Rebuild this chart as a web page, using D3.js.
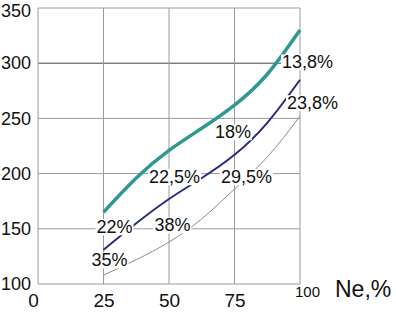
<!DOCTYPE html>
<html>
<head>
<meta charset="utf-8">
<script src="https://cdn.jsdelivr.net/npm/d3@7"></script>
<style>
  html, body { margin: 0; padding: 0; background: #fff; }
  svg { display: block; font-family: "Liberation Sans", Arial, sans-serif; }
</style>
</head>
<body>
<svg id="chart" width="396" height="312"></svg>
<script>
// values, Ne in %
const xTicks = [0, 25, 50, 75, 100];
const yTicks = [100, 150, 200, 250, 300, 350];

const neLevels = [25, 37.5, 50, 62.5, 75, 87.5, 100];
const tealValues = [165, 196, 221, 241, 262, 290, 330];
const navyValues = [131, 155, 177, 196, 217, 246, 285];
const greyValues = [108, 122, 138, 159, 186, 215, 252];

const labelTexts = ['13,8%', '23,8%', '18%', '22,5%', '29,5%', '22%', '38%', '35%'];
const labelNe = [102.9, 104.8, 74.4, 52.1, 79.6, 29.2, 51.3, 27.3];
const labelVal = [301, 264, 237.7, 197, 197, 151.6, 153.4, 121.7];

const svg = d3.select('#chart');

const xScale = d3.scaleLinear().domain([0, 100]).range([38, 300]);
const yScale = d3.scaleLinear().domain([100, 350]).range([284, 8]);

// grid
const grid = svg.append('g');
grid.selectAll('line.h')
    .data(yTicks)
    .enter()
    .append('line')
    .attr('x1', xScale(0))
    .attr('x2', xScale(100))
    .attr('y1', d => yScale(d))
    .attr('y2', d => yScale(d))
    .attr('stroke', d => d === 300 ? '#444' : '#9a9a9a')
    .attr('stroke-width', 1);

grid.selectAll('line.v')
    .data(xTicks)
    .enter()
    .append('line')
    .attr('x1', d => xScale(d))
    .attr('x2', d => xScale(d))
    .attr('y1', yScale(350))
    .attr('y2', yScale(100))
    .attr('stroke', '#9a9a9a')
    .attr('stroke-width', 1);

// axes (labels only)
const yAxis = d3.axisLeft(yScale).tickValues(yTicks).tickSize(0).tickPadding(0);
const yg = svg.append('g')
    .attr('transform', 'translate(31,0)')
    .call(yAxis);
yg.select('.domain').remove();
yg.selectAll('text')
    .attr('font-size', 18)
    .attr('font-family', '"Liberation Sans", Arial, sans-serif')
    .attr('fill', '#111')
    .attr('dy', d => d === 350 ? '0.45em' : '0.32em');

const xAxis = d3.axisBottom(xScale).tickValues(xTicks).tickSize(0).tickPadding(0);
const xg = svg.append('g')
    .attr('transform', 'translate(0,292)')
    .call(xAxis);
xg.select('.domain').remove();
xg.selectAll('text')
    .attr('font-family', '"Liberation Sans", Arial, sans-serif')
    .attr('fill', '#111')
    .attr('dy', null)
    .attr('y', d => d === 100 ? 5 : 15)
    .attr('dx', d => d === 0 ? -5 : (d === 100 ? 7 : 0))
    .attr('font-size', d => d === 100 ? 15 : 19);

svg.append('text')
    .attr('x', 335)
    .attr('y', 297)
    .attr('font-size', 23)
    .attr('fill', '#111')
    .text('Ne,%');

// curves
const line = vals => d3.line()
    .x((d, i) => xScale(neLevels[i]))
    .y(d => yScale(d))
    .curve(d3.curveNatural)(vals);

svg.append('path')
    .attr('d', line(greyValues))
    .attr('fill', 'none')
    .attr('stroke', '#8a8a8a')
    .attr('stroke-width', 1);

svg.append('path')
    .attr('d', line(navyValues))
    .attr('fill', 'none')
    .attr('stroke', '#2b2a7c')
    .attr('stroke-width', 2);

svg.append('path')
    .attr('d', line(tealValues))
    .attr('fill', 'none')
    .attr('stroke', '#2f9890')
    .attr('stroke-width', 3.5);

// percentage labels with white boxes that break the lines
const labels = svg.append('g')
    .selectAll('g')
    .data(labelTexts)
    .enter()
    .append('g')
    .attr('transform', (d, i) => `translate(${xScale(labelNe[i])},${yScale(labelVal[i])})`);

labels.append('text')
    .attr('text-anchor', 'middle')
    .attr('dy', '0.35em')
    .attr('font-size', 18)
    .attr('fill', '#111')
    .text(d => d);

labels.each(function() {
    const g = d3.select(this);
    const bb = g.select('text').node().getBBox();
    g.insert('rect', 'text')
        .attr('x', bb.x - 1)
        .attr('y', bb.y + 2)
        .attr('width', bb.width + 2)
        .attr('height', bb.height - 4)
        .attr('fill', '#fff');
});
</script>
</body>
</html>
